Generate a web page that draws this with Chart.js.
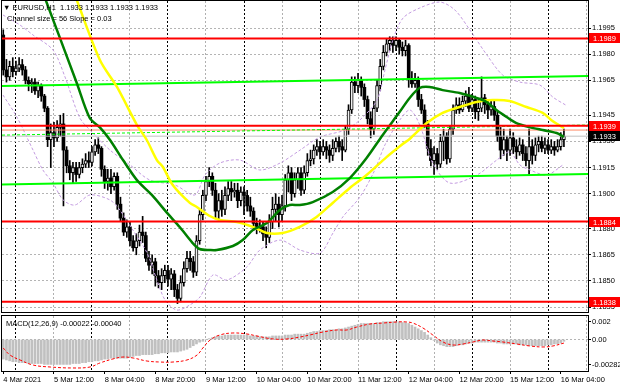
<!DOCTYPE html>
<html lang="en">
<head>
  <meta charset="UTF-8">
  <title>EURUSD,H1</title>
  <script src="https://cdn.jsdelivr.net/npm/chart.js"></script>
  <style>
    html, body { margin: 0; padding: 0; background: #fff; }
    .wrap { position: relative; width: 620px; height: 388px; overflow: hidden; background: #fff; }
    #priceChart { position: absolute; left: 0; top: 0; }
    #macdChart { position: absolute; left: 0; top: 314px; }
  </style>
</head>
<body>
  <div class="wrap">
    <canvas id="priceChart" width="620" height="314"></canvas>
    <canvas id="macdChart" width="620" height="74"></canvas>
  </div>

  <script>
    // H1 bars, index 0 = 4 Mar 20:00
    const opens = [
      1.1991, 1.1971, 1.1967, 1.1973, 1.1970, 1.1972, 1.1974, 1.1971, 1.1965, 1.1963,
      1.1964, 1.1959, 1.1962, 1.1956, 1.1949, 1.1931, 1.1935, 1.1932, 1.1938, 1.1940,
      1.1925, 1.1916, 1.1912, 1.1915, 1.1911, 1.1915, 1.1917, 1.1919, 1.1918, 1.1924,
      1.1928, 1.1926, 1.1914, 1.1907, 1.1909, 1.1904, 1.1910, 1.1894, 1.1886, 1.1878,
      1.1881, 1.1873, 1.1869, 1.1873, 1.1878, 1.1876, 1.1863, 1.1859, 1.1861, 1.1853,
      1.1849, 1.1853, 1.1856, 1.1851, 1.1854, 1.1845, 1.1840, 1.1849, 1.1857, 1.1863,
      1.1861, 1.1855, 1.1873, 1.1888, 1.1899, 1.1907, 1.1910, 1.1902, 1.1890, 1.1896,
      1.1891, 1.1899, 1.1903, 1.1901, 1.1902, 1.1896, 1.1901, 1.1899, 1.1893, 1.1890,
      1.1883, 1.1880, 1.1881, 1.1877, 1.1875, 1.1884, 1.1891, 1.1894, 1.1888, 1.1893,
      1.1908, 1.1912, 1.1900, 1.1908, 1.1912, 1.1902, 1.1912, 1.1919, 1.1920, 1.1925,
      1.1927, 1.1924, 1.1927, 1.1925, 1.1922, 1.1926, 1.1930, 1.1927, 1.1925, 1.1937,
      1.1948, 1.1964, 1.1962, 1.1965, 1.1961, 1.1954, 1.1943, 1.1937, 1.1949, 1.1962,
      1.1973, 1.1981, 1.1986, 1.1988, 1.1985, 1.1988, 1.1984, 1.1982, 1.1985, 1.1966,
      1.1963, 1.1965, 1.1954, 1.1948, 1.1940, 1.1926, 1.1919, 1.1923, 1.1917, 1.1930,
      1.1933, 1.1920, 1.1937, 1.1948, 1.1951, 1.1948, 1.1953, 1.1956, 1.1949, 1.1954,
      1.1947, 1.1949, 1.1955, 1.1951, 1.1948, 1.1950, 1.1945, 1.1933, 1.1925, 1.1931,
      1.1925, 1.1932, 1.1927, 1.1924, 1.1928, 1.1923, 1.1919, 1.1927, 1.1922, 1.1928,
      1.1930, 1.1926, 1.1928, 1.1925, 1.1927, 1.1925, 1.1927, 1.1931
    ];
    const highs = [
      1.1994, 1.1977, 1.1976, 1.1978, 1.1976, 1.1978, 1.1977, 1.1973, 1.1967, 1.1966,
      1.1966, 1.1964, 1.1963, 1.1957, 1.1950, 1.1940, 1.1941, 1.1942, 1.1945, 1.1946,
      1.1927, 1.1919, 1.1918, 1.1918, 1.1918, 1.1920, 1.1923, 1.1924, 1.1927, 1.1931,
      1.1932, 1.1927, 1.1916, 1.1914, 1.1914, 1.1912, 1.1912, 1.1898, 1.1889, 1.1885,
      1.1884, 1.1876, 1.1877, 1.1882, 1.1887, 1.1878, 1.1867, 1.1865, 1.1863, 1.1856,
      1.1857, 1.1859, 1.1859, 1.1857, 1.1856, 1.1848, 1.1853, 1.1861, 1.1867, 1.1867,
      1.1864, 1.1876, 1.1891, 1.1902, 1.1910, 1.1915, 1.1912, 1.1906, 1.1900, 1.1902,
      1.1904, 1.1907, 1.1907, 1.1906, 1.1906, 1.1904, 1.1904, 1.1902, 1.1898, 1.1892,
      1.1886, 1.1885, 1.1884, 1.1881, 1.1888, 1.1898, 1.1900, 1.1898, 1.1899, 1.1911,
      1.1916, 1.1915, 1.1912, 1.1915, 1.1915, 1.1916, 1.1923, 1.1925, 1.1928, 1.1931,
      1.1930, 1.1931, 1.1930, 1.1928, 1.1931, 1.1932, 1.1933, 1.1931, 1.1939, 1.1951,
      1.1967, 1.1967, 1.1969, 1.1967, 1.1963, 1.1956, 1.1947, 1.1953, 1.1965, 1.1977,
      1.1985, 1.1989, 1.1990, 1.1990, 1.1990, 1.1989, 1.1987, 1.1988, 1.1986, 1.1970,
      1.1969, 1.1967, 1.1957, 1.1951, 1.1942, 1.1931, 1.1927, 1.1926, 1.1934, 1.1937,
      1.1935, 1.1939, 1.1951, 1.1955, 1.1955, 1.1956, 1.1959, 1.1961, 1.1957, 1.1956,
      1.1954, 1.1967, 1.1957, 1.1954, 1.1954, 1.1953, 1.1947, 1.1938, 1.1937, 1.1933,
      1.1937, 1.1935, 1.1931, 1.1932, 1.1931, 1.1927, 1.1937, 1.1931, 1.1932, 1.1933,
      1.1933, 1.1932, 1.1931, 1.1931, 1.1930, 1.1931, 1.1935, 1.1937
    ];
    const lows = [
      1.1968, 1.1964, 1.1965, 1.1967, 1.1968, 1.1970, 1.1968, 1.1963, 1.1959, 1.1958,
      1.1957, 1.1955, 1.1953, 1.1947, 1.1927, 1.1915, 1.1927, 1.1930, 1.1933, 1.1893,
      1.1912, 1.1908, 1.1906, 1.1907, 1.1909, 1.1912, 1.1915, 1.1915, 1.1916, 1.1922,
      1.1923, 1.1910, 1.1903, 1.1902, 1.1900, 1.1902, 1.1891, 1.1884, 1.1876, 1.1875,
      1.1870, 1.1867, 1.1865, 1.1870, 1.1872, 1.1861, 1.1856, 1.1854, 1.1847, 1.1846,
      1.1845, 1.1849, 1.1847, 1.1845, 1.1841, 1.1837, 1.1838, 1.1847, 1.1855, 1.1856,
      1.1852, 1.1853, 1.1871, 1.1885, 1.1896, 1.1904, 1.1899, 1.1886, 1.1885, 1.1887,
      1.1888, 1.1896, 1.1896, 1.1898, 1.1892, 1.1893, 1.1888, 1.1890, 1.1887, 1.1879,
      1.1877, 1.1878, 1.1873, 1.1869, 1.1872, 1.1880, 1.1884, 1.1881, 1.1884, 1.1890,
      1.1901, 1.1896, 1.1898, 1.1903, 1.1899, 1.1900, 1.1910, 1.1916, 1.1917, 1.1922,
      1.1920, 1.1922, 1.1920, 1.1918, 1.1919, 1.1924, 1.1924, 1.1919, 1.1924, 1.1934,
      1.1946, 1.1958, 1.1958, 1.1956, 1.1950, 1.1940, 1.1932, 1.1934, 1.1947, 1.1959,
      1.1971, 1.1979, 1.1982, 1.1981, 1.1982, 1.1980, 1.1979, 1.1979, 1.1961, 1.1961,
      1.1961, 1.1950, 1.1946, 1.1938, 1.1922, 1.1916, 1.1911, 1.1914, 1.1915, 1.1919,
      1.1917, 1.1918, 1.1934, 1.1946, 1.1946, 1.1947, 1.1950, 1.1947, 1.1947, 1.1943,
      1.1942, 1.1947, 1.1946, 1.1943, 1.1945, 1.1942, 1.1930, 1.1920, 1.1922, 1.1919,
      1.1922, 1.1923, 1.1920, 1.1922, 1.1919, 1.1916, 1.1911, 1.1917, 1.1919, 1.1924,
      1.1924, 1.1923, 1.1923, 1.1923, 1.1922, 1.1924, 1.1925, 1.1927
    ];
    const closes = [
      1.1971, 1.1967, 1.1973, 1.1970, 1.1972, 1.1974, 1.1971, 1.1965, 1.1963, 1.1964,
      1.1959, 1.1962, 1.1956, 1.1949, 1.1931, 1.1935, 1.1932, 1.1938, 1.1940, 1.1925,
      1.1916, 1.1912, 1.1915, 1.1911, 1.1915, 1.1917, 1.1919, 1.1918, 1.1924, 1.1928,
      1.1926, 1.1914, 1.1907, 1.1909, 1.1904, 1.1910, 1.1894, 1.1886, 1.1878, 1.1881,
      1.1873, 1.1869, 1.1873, 1.1878, 1.1876, 1.1863, 1.1859, 1.1861, 1.1853, 1.1849,
      1.1853, 1.1856, 1.1851, 1.1854, 1.1845, 1.1840, 1.1849, 1.1857, 1.1863, 1.1861,
      1.1855, 1.1873, 1.1888, 1.1899, 1.1907, 1.1910, 1.1902, 1.1890, 1.1896, 1.1891,
      1.1899, 1.1903, 1.1901, 1.1902, 1.1896, 1.1901, 1.1899, 1.1893, 1.1890, 1.1883,
      1.1880, 1.1881, 1.1877, 1.1875, 1.1884, 1.1891, 1.1894, 1.1888, 1.1893, 1.1908,
      1.1912, 1.1900, 1.1908, 1.1912, 1.1902, 1.1912, 1.1919, 1.1920, 1.1925, 1.1927,
      1.1924, 1.1927, 1.1925, 1.1922, 1.1926, 1.1930, 1.1927, 1.1925, 1.1937, 1.1948,
      1.1964, 1.1962, 1.1965, 1.1961, 1.1954, 1.1943, 1.1937, 1.1949, 1.1962, 1.1973,
      1.1981, 1.1986, 1.1988, 1.1985, 1.1988, 1.1984, 1.1982, 1.1985, 1.1966, 1.1963,
      1.1965, 1.1954, 1.1948, 1.1940, 1.1926, 1.1919, 1.1923, 1.1917, 1.1930, 1.1933,
      1.1920, 1.1937, 1.1948, 1.1951, 1.1948, 1.1953, 1.1956, 1.1949, 1.1954, 1.1947,
      1.1949, 1.1955, 1.1951, 1.1948, 1.1950, 1.1945, 1.1933, 1.1925, 1.1931, 1.1925,
      1.1932, 1.1927, 1.1924, 1.1928, 1.1923, 1.1919, 1.1927, 1.1922, 1.1928, 1.1930,
      1.1926, 1.1928, 1.1925, 1.1927, 1.1925, 1.1927, 1.1931, 1.1933
    ];

    // moving averages: [bar, price]
    const maGreen = [
      [13.2, 1.2012], [23.2, 1.19635], [27.3, 1.19434], [30.5, 1.1938], [33.7, 1.19308],
      [37.8, 1.19193], [42.2, 1.19078], [46.9, 1.18993], [52, 1.18884], [55.7, 1.18809],
      [59.8, 1.18717], [62, 1.18683], [65.2, 1.18677], [67.4, 1.18677], [72.5, 1.187],
      [75.6, 1.18734], [78.8, 1.18792], [83.2, 1.18832], [87.3, 1.18906], [90.4, 1.18935],
      [93.6, 1.18935], [97.7, 1.18952], [104, 1.1901], [109.4, 1.1909], [114.7, 1.19205],
      [119.8, 1.19337], [125.1, 1.19468], [128.3, 1.19549], [131.4, 1.19606], [134.6, 1.19612],
      [138.7, 1.19594], [144.1, 1.19577], [149.4, 1.19549], [152.6, 1.19526], [155.7, 1.1948],
      [158.9, 1.1944], [162, 1.19405], [166.1, 1.19382], [170.3, 1.19365], [174.7, 1.19348],
      [177, 1.19325]
    ];
    const maYellow = [
      [23, 1.2012], [30.5, 1.19767], [35.9, 1.19612], [42.2, 1.19394], [45.3, 1.19308],
      [48.5, 1.19193], [50.4, 1.19153], [53.5, 1.1905], [58.9, 1.18947], [61.1, 1.18924],
      [65.2, 1.18872], [68.4, 1.18849], [73.7, 1.18838], [78.8, 1.1881], [83.2, 1.18775],
      [88.2, 1.18775], [93.6, 1.1881], [98.9, 1.18867], [104, 1.18947], [109.4, 1.19033],
      [114.7, 1.19107], [121, 1.1921], [126.1, 1.19285], [128.3, 1.19314], [133.7, 1.19405],
      [138.7, 1.19463], [144.1, 1.19497], [149.4, 1.19526], [154.5, 1.19537], [159.8, 1.19532],
      [165.2, 1.19497], [170.3, 1.19463], [173.4, 1.19417], [177, 1.19377]
    ];
    const bandUpper = [
      [-0.1, 1.20025], [5.3, 1.19967], [9.4, 1.1991], [15.7, 1.19824], [19.5, 1.19669],
      [24.2, 1.19434], [28.3, 1.19348], [33.7, 1.1925], [40, 1.19165], [46.3, 1.19078],
      [54.2, 1.1905], [60.5, 1.18993], [63.7, 1.19107], [68.4, 1.19176], [74.7, 1.19193],
      [81, 1.19136], [87.4, 1.19176], [93.7, 1.1925], [100, 1.19325], [107.9, 1.19365],
      [112.6, 1.19423], [118, 1.19537], [120.5, 1.19709], [123, 1.19881], [126.2, 1.20007],
      [131.5, 1.20065], [137.9, 1.20099], [142.6, 1.20053], [147.3, 1.19939], [152.7, 1.19795],
      [157.7, 1.1968], [163.1, 1.1964], [169.4, 1.19623], [173.5, 1.19554], [177.6, 1.19508]
    ];
    const bandLower = [
      [-0.1, 1.19566], [4.3, 1.1944], [9.4, 1.1925], [12.5, 1.19136], [15.7, 1.19061],
      [18.9, 1.18964], [22.6, 1.18935], [27.4, 1.18993], [33.7, 1.18964], [36.8, 1.18906],
      [40.9, 1.18792], [45.4, 1.1866], [48.5, 1.18505], [51.1, 1.1839], [54.8, 1.18333],
      [58.9, 1.18362], [62.1, 1.18408], [66.2, 1.18534], [70.6, 1.18505], [76.9, 1.1858],
      [81, 1.18677], [87.4, 1.18734], [93.7, 1.18677], [100, 1.1866], [104.1, 1.18775],
      [107.2, 1.18867], [112.6, 1.18981], [117.3, 1.19136], [120.5, 1.1928], [125.2, 1.19423],
      [128.4, 1.1948], [131.5, 1.19394], [135.6, 1.19176], [141, 1.19061], [149.5, 1.19107],
      [155.8, 1.19193], [159.9, 1.19239], [163.1, 1.19165], [166.3, 1.19136], [171.6, 1.19107],
      [176.7, 1.19165]
    ];

    // horizontal levels and channel
    const redLevels = [1.1989, 1.1939, 1.1884, 1.1838];
    const bidPrice = 1.1933;
    const extraLevel = 1.19365;
    const channelUpper = [1.19617, 1.19675];
    const channelMiddle = [1.19336, 1.19394];
    const channelLower = [1.19053, 1.19113];

    // MACD(12,26,9)
    const macdHist = [
      -0.0022, -0.0023, -0.0024, -0.0025, -0.0025, -0.0026, -0.0026, -0.0026, -0.0027, -0.0027,
      -0.0027, -0.0027, -0.0027, -0.0028, -0.0028, -0.0028, -0.0028, -0.0028, -0.0028, -0.0028,
      -0.0028, -0.0028, -0.0027, -0.0027, -0.0027, -0.0026, -0.0026, -0.0025, -0.0025, -0.0024,
      -0.0024, -0.0023, -0.0022, -0.0022, -0.0021, -0.0021, -0.0021, -0.0021, -0.0021, -0.0021,
      -0.0020, -0.0019, -0.0018, -0.0018, -0.0017, -0.0017, -0.0017, -0.0017, -0.0016, -0.0016,
      -0.0015, -0.0015, -0.0015, -0.0014, -0.0014, -0.0014, -0.0013, -0.0012, -0.0011, -0.0009,
      -0.0007, -0.0005, -0.0003, -0.0002, 0.0000, 0.0001, 0.0002, 0.0003, 0.0004, 0.0004,
      0.0005, 0.0005, 0.0005, 0.0005, 0.0005, 0.0005, 0.0005, 0.0005, 0.0004, 0.0004,
      0.0004, 0.0003, 0.0003, 0.0003, 0.0003, 0.0004, 0.0004, 0.0004, 0.0004, 0.0005,
      0.0005, 0.0005, 0.0006, 0.0006, 0.0006, 0.0006, 0.0007, 0.0008, 0.0009, 0.0009,
      0.0010, 0.0010, 0.0010, 0.0011, 0.0011, 0.0011, 0.0012, 0.0012, 0.0013, 0.0014,
      0.0015, 0.0016, 0.0017, 0.0018, 0.0018, 0.0018, 0.0018, 0.0018, 0.0019, 0.0019,
      0.0020, 0.0020, 0.0020, 0.0020, 0.0020, 0.0020, 0.0019, 0.0019, 0.0018, 0.0016,
      0.0014, 0.0012, 0.0010, 0.0008, 0.0005, 0.0002, -0.0001, -0.0004, -0.0006, -0.0007,
      -0.0008, -0.0008, -0.0008, -0.0007, -0.0006, -0.0006, -0.0005, -0.0004, -0.0004, -0.0003,
      -0.0003, -0.0003, -0.0003, -0.0003, -0.0003, -0.0003, -0.0004, -0.0004, -0.0005, -0.0005,
      -0.0005, -0.0005, -0.0005, -0.0006, -0.0006, -0.0006, -0.0007, -0.0007, -0.0007, -0.0007,
      -0.0007, -0.0007, -0.0006, -0.0006, -0.0005, -0.0005, -0.0004, -0.0002
    ];
    const macdSignal = [
      [0, -0.00096], [2.1, -0.00174], [5.3, -0.0023], [9.4, -0.00287], [14.8, -0.00309],
      [22, -0.0032], [27.4, -0.00309], [30.5, -0.00264], [34.6, -0.00219], [37.8, -0.00197],
      [41, -0.00208], [45.4, -0.00242], [49.5, -0.00253], [53.6, -0.00253], [58, -0.0023],
      [61.2, -0.00174], [63, -0.00096], [65.3, -0.00006], [68.4, 0.00051], [72.5, 0.00073],
      [76.9, 0.00062], [80.1, 0.00039], [85.1, 0.00006], [89.6, 0.00006], [93.7, 0.00028],
      [96.8, 0.00051], [100.9, 0.00084], [105.3, 0.00107], [108.5, 0.00107], [111.6, 0.0014],
      [115.8, 0.00174], [119.9, 0.00185], [124.3, 0.00197], [127.4, 0.00197], [129.3, 0.00185],
      [132.5, 0.00129], [135.6, 0.00051], [138.8, -0.00028], [142, -0.00062], [145.1, -0.00051],
      [148.3, -0.00028], [151.4, -0.00006], [154.6, -0.00017], [157.7, -0.00028], [162.2, -0.00051],
      [166.3, -0.00073], [170.4, -0.00084], [173.5, -0.00073], [177, -0.0004]
    ];

    // axes
    const priceTicks = [1.1835, 1.1850, 1.1865, 1.1880, 1.1900, 1.1915, 1.1930, 1.1945, 1.1965, 1.1980, 1.1995];
    const macdTicks = [-0.00282, 0, 0.002];
    const timeTickBars = [0, 16, 32, 48, 64, 80, 96, 112, 128, 144, 160, 176];
    const timeLabels = ['4 Mar 2021', '5 Mar 12:00', '8 Mar 04:00', '8 Mar 20:00', '9 Mar 12:00', '10 Mar 04:00',
      '10 Mar 20:00', '11 Mar 12:00', '12 Mar 04:00', '12 Mar 20:00', '15 Mar 12:00', '16 Mar 04:00'];
    const daySeparators = [4, 28, 52, 76, 100, 124, 148, 172];
    const midDays = [16, 40, 64, 88, 112, 136, 160, 184];

    const X_MIN = -0.4, X_MAX = 184.6;
    const FONT = { family: '"Liberation Sans", Arial, sans-serif', size: 7.5 };
    const CSS_FONT = '7.5px "Liberation Sans", Arial, sans-serif';

    const pts = arr => arr.map(p => ({ x: p[0], y: p[1] }));
    const hline = v => [{ x: X_MIN, y: v }, { x: X_MAX, y: v }];
    const sloped = ends => [{ x: X_MIN, y: ends[0] }, { x: X_MAX, y: ends[1] }];

    const wicks = highs.map((h, i) => ({ x: i, y: [lows[i], h] }));
    const bullBodies = [];
    const bearBodies = [];
    opens.forEach((o, i) => {
      if (closes[i] >= o) bullBodies.push({ x: i, y: [o, closes[i]] });
      else bearBodies.push({ x: i, y: [closes[i], o] });
    });

    const lineDs = (data, color, width, extra) => Object.assign({
      type: 'line', data, borderColor: color, borderWidth: width,
      pointRadius: 0, fill: false, clip: 0, tension: 0
    }, extra || {});

    const xGrid = {
      type: 'linear', min: X_MIN, max: X_MAX, offset: false,
      afterBuildTicks: s => { s.ticks = daySeparators.concat(midDays).sort((a, b) => a - b).map(v => ({ value: v })); },
      ticks: { display: false },
      grid: {
        offset: false, drawTicks: false, lineWidth: 1,
        color: c => (c.tick && daySeparators.includes(c.tick.value)) ? '#000000' : '#b0b0b0'
      },
      border: { display: false, dash: [2, 2] },
      afterFit: s => { s.height = 0; s.paddingLeft = 0; s.paddingRight = 0; }
    };

    const priceDecor = {
      id: 'priceDecor',
      afterDraw(chart) {
        const { ctx, chartArea: a, scales: { y } } = chart;
        ctx.save();
        ctx.strokeStyle = '#000';
        ctx.lineWidth = 1;
        ctx.strokeRect(a.left - 0.5, a.top - 0.5, a.right - a.left + 1, a.bottom - a.top + 1);
        ctx.font = CSS_FONT;
        ctx.textBaseline = 'middle';
        ctx.fillStyle = '#000';
        ctx.fillText('\u25BC EURUSD,H1  1.1933 1.1933 1.1933 1.1933', 3, 8);
        ctx.fillText('Channel size = 56 Slope = 0.03', 7, 19);
        const tags = redLevels.map(v => ({ v, bg: '#ff0000' })).concat([{ v: bidPrice, bg: '#000000' }]);
        tags.forEach(t => {
          const py = Math.round(y.getPixelForValue(t.v));
          ctx.fillStyle = t.bg;
          ctx.fillRect(589, py - 5, 31, 10);
          ctx.fillStyle = '#ffffff';
          ctx.fillText(t.v.toFixed(4), 593, py + 0.5);
        });
        ctx.restore();
      }
    };

    new Chart(document.getElementById('priceChart'), {
      type: 'bar',
      data: {
        datasets: [
          { data: wicks, backgroundColor: '#000', barThickness: 1, grouped: false, order: 20, clip: 0 },
          { data: bullBodies, backgroundColor: '#f0f0f0', borderColor: '#000', borderWidth: 1, borderSkipped: false,
            barThickness: 3, minBarLength: 1, grouped: false, order: 19, clip: 0 },
          { data: bearBodies, backgroundColor: '#000', barThickness: 3, minBarLength: 1, grouped: false, order: 19, clip: 0 },
          lineDs(pts(bandUpper), '#c39be0', 1, { borderDash: [3, 2], tension: 0.3, order: 15 }),
          lineDs(pts(bandLower), '#c39be0', 1, { borderDash: [3, 2], tension: 0.3, order: 15 }),
          lineDs(hline(extraLevel), '#ff8a65', 1, { order: 14 }),
          lineDs(hline(bidPrice), '#c0c0c0', 1, { order: 14 }),
          lineDs(sloped(channelMiddle), '#00ff00', 1, { borderDash: [3, 2], order: 13 }),
          lineDs(sloped(channelUpper), '#00ff00', 2, { order: 12 }),
          lineDs(sloped(channelLower), '#00ff00', 2, { order: 12 }),
          lineDs(pts(maYellow), '#ffff00', 2.5, { tension: 0.3, order: 11 }),
          lineDs(pts(maGreen), '#008000', 2.5, { tension: 0.3, order: 10 }),
          ...redLevels.map(v => lineDs(hline(v), '#ff0000', 2, { order: 5 }))
        ]
      },
      options: {
        responsive: false,
        animation: false,
        devicePixelRatio: 1,
        layout: { padding: { left: 2, top: 1, right: 0, bottom: 2 } },
        plugins: { legend: { display: false }, tooltip: { enabled: false } },
        scales: {
          x: xGrid,
          y: {
            position: 'right', min: 1.183217, max: 1.20105,
            afterBuildTicks: s => { s.ticks = priceTicks.map(v => ({ value: v })); },
            ticks: { font: FONT, color: '#000', padding: 1, callback: v => v.toFixed(4) },
            grid: { color: '#b4b4b4', tickColor: '#000', tickLength: 3 },
            border: { display: true, color: '#000', dash: [2, 2] },
            afterFit: s => { s.width = 32; s.paddingTop = 0; s.paddingBottom = 0; }
          }
        }
      },
      plugins: [priceDecor]
    });

    const macdDecor = {
      id: 'macdDecor',
      afterDraw(chart) {
        const { ctx, chartArea: a } = chart;
        ctx.save();
        ctx.strokeStyle = '#000';
        ctx.lineWidth = 1;
        ctx.strokeRect(a.left - 0.5, a.top - 0.5, a.right - a.left + 1, a.bottom - a.top + 1);
        ctx.font = CSS_FONT;
        ctx.textBaseline = 'middle';
        ctx.fillStyle = '#000';
        ctx.fillText('MACD(12,26,9) -0.00022 -0.00040', 6, 10);
        ctx.restore();
      }
    };

    new Chart(document.getElementById('macdChart'), {
      type: 'bar',
      data: {
        datasets: [
          { data: macdHist.map((v, i) => ({ x: i, y: v })), backgroundColor: '#c0c0c0',
            barThickness: 2, grouped: false, order: 5, clip: 0 },
          lineDs(pts(macdSignal), '#ff0000', 1, { borderDash: [3, 2], tension: 0.4, order: 1 })
        ]
      },
      options: {
        responsive: false,
        animation: false,
        devicePixelRatio: 1,
        layout: { padding: { left: 2, top: 2, right: 0, bottom: 0 } },
        plugins: { legend: { display: false }, tooltip: { enabled: false } },
        scales: {
          x: {
            type: 'linear', min: X_MIN, max: X_MAX, offset: false, position: 'bottom',
            afterBuildTicks: s => { s.ticks = timeTickBars.map(v => ({ value: v })); },
            ticks: {
              font: FONT, color: '#000', padding: 1, align: 'start', autoSkip: false,
              maxRotation: 0, minRotation: 0,
              callback: (v, i) => timeLabels[i]
            },
            grid: { drawOnChartArea: false, drawTicks: true, tickLength: 3, tickColor: '#000', offset: false },
            border: { display: true, color: '#000' },
            afterFit: s => { s.height = 17; s.paddingLeft = 0; s.paddingRight = 0; }
          },
          xg: xGrid,
          y: {
            position: 'right', min: -0.00354, max: 0.00264,
            afterBuildTicks: s => { s.ticks = macdTicks.map(v => ({ value: v })); },
            ticks: {
              font: FONT, color: '#000', padding: 1,
              callback: v => v === 0 ? '0.00' : (v === 0.002 ? '0.002' : v.toFixed(5))
            },
            grid: { color: c => (c.tick && c.tick.value === 0) ? '#b4b4b4' : 'rgba(0,0,0,0)', tickColor: '#000', tickLength: 3 },
            border: { display: true, color: '#000', dash: [2, 2] },
            afterFit: s => { s.width = 32; s.paddingTop = 0; s.paddingBottom = 0; }
          }
        }
      },
      plugins: [macdDecor]
    });
  </script>
</body>
</html>
